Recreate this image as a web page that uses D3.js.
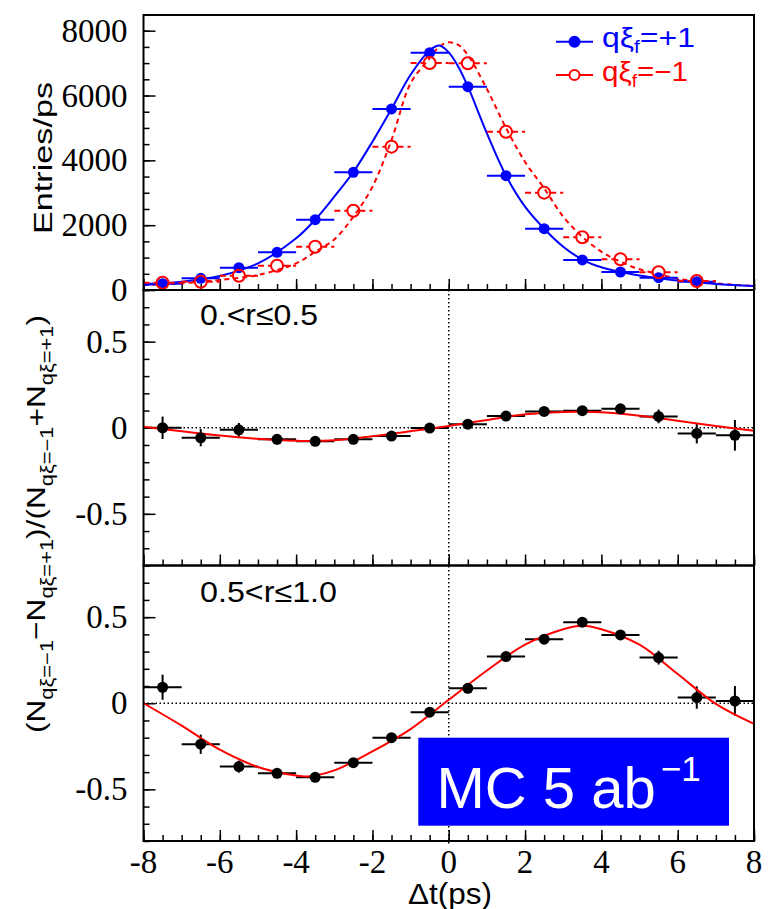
<!DOCTYPE html>
<html>
<head>
<meta charset="utf-8">
<script src="https://cdn.jsdelivr.net/npm/d3@7"></script>
<style>
  body { margin: 0; background: #fff; }
</style>
</head>
<body>
<svg id="chart" width="777" height="909"></svg>
<script>
// bins of the upper distribution (1 ps wide)
var topBins = [-7.5, -6.5, -5.5, -4.5, -3.5, -2.5, -1.5, -0.5, 0.5, 1.5, 2.5, 3.5, 4.5, 5.5, 6.5];
var blueCounts = [194, 360, 688, 1163, 2169, 3631, 5585, 7322, 6273, 3527, 1891, 926, 555, 380, 256];
var redCounts  = [225, 256, 441, 750, 1336, 2447, 4422, 7004, 6995, 4884, 3003, 1626, 947, 546, 278];

// fitted curves of the upper panel
var topFitX  = [-8, -7, -6, -5, -4, -3.5, -3, -2.5, -2, -1.5, -1, -0.5, -0.25, 0, 0.25, 0.5, 1, 1.5, 2, 2.5, 3, 3.5, 4, 4.5, 5, 5.5, 6, 7, 8];
var blueFit  = [154, 256, 432, 823, 1594, 2169, 2880, 3640, 4576, 5590, 6640, 7390, 7540, 7330, 6890, 6280, 4835, 3530, 2570, 1890, 1336, 940, 700, 555, 450, 365, 290, 185, 123];
var redFit   = [154, 206, 309, 463, 823, 1180, 1560, 2262, 3187, 4628, 6377, 7150, 7500, 7640, 7560, 7250, 6200, 5000, 3950, 3138, 2262, 1645, 1182, 873, 638, 494, 349, 206, 123];

// asymmetry panels
var ratioBins = [-7.5, -6.5, -5.5, -4.5, -3.5, -2.5, -1.5, -0.5, 0.5, 1.5, 2.5, 3.5, 4.5, 5.5, 6.5, 7.5];
var midAsym = [0.0, -0.058, -0.012, -0.067, -0.079, -0.067, -0.048, -0.002, 0.021, 0.068, 0.095, 0.099, 0.11, 0.066, -0.033, -0.044];
var midErr  = [0.065, 0.05, 0.04, 0.03, 0.025, 0.02, 0.02, 0.02, 0.02, 0.02, 0.02, 0.02, 0.025, 0.04, 0.058, 0.089];
var lowAsym = [0.093, -0.238, -0.368, -0.407, -0.43, -0.345, -0.2, -0.052, 0.087, 0.271, 0.372, 0.471, 0.397, 0.265, 0.033, 0.013];
var lowErr  = [0.073, 0.056, 0.035, 0.025, 0.02, 0.02, 0.02, 0.02, 0.02, 0.02, 0.02, 0.02, 0.025, 0.04, 0.065, 0.087];

var ratioFitX = [-8, -7, -6, -5, -4, -3.7, -3, -2, -1, 0, 1, 2, 3, 3.5, 4, 5, 6, 7, 8];
var midFit = [0.006, -0.02, -0.045, -0.064, -0.076, -0.077, -0.073, -0.05, -0.02, 0.01, 0.045, 0.078, 0.092, 0.093, 0.09, 0.07, 0.04, 0.01, -0.017];
var lowFit = [0.0, -0.13, -0.27, -0.37, -0.42, -0.425, -0.39, -0.28, -0.15, 0.02, 0.19, 0.34, 0.43, 0.45, 0.43, 0.34, 0.17, -0.004, -0.12];

var xMajor = [-8, -6, -4, -2, 0, 2, 4, 6, 8];
var topMajor = [0, 2000, 4000, 6000, 8000];
var ratioMajor = [-0.5, 0, 0.5];

var SANS = 'Liberation Sans';
var SERIF = 'Liberation Serif';

var svg = d3.select('#chart');
var x = d3.scaleLinear().domain([-8, 8]).range([143.5, 754]);

var panels = [
  {top: 15, bottom: 290, dom: [0, 8484], major: topMajor, minor: d3.range(0, 8485, 500)},
  {top: 290, bottom: 565.5, dom: [-0.8, 0.8], major: ratioMajor, minor: d3.range(-8, 9).map(function (d) { return d / 10; })},
  {top: 565.5, bottom: 841, dom: [-0.8, 0.8], major: ratioMajor, minor: d3.range(-8, 9).map(function (d) { return d / 10; })}
];
panels.forEach(function (p) {
  p.y = d3.scaleLinear().domain(p.dom).range([p.bottom, p.top]);
});

var xMinor = d3.range(-16, 17).map(function (d) { return d / 2; });

function ticksOnly(g) {
  g.select('.domain').remove();
  g.selectAll('.tick text').remove();
  g.selectAll('.tick line').attr('stroke', '#000').attr('stroke-width', 1.5);
}

// axes (tick marks from d3, labels drawn as plain text)
panels.forEach(function (p, i) {
  svg.append('g').attr('transform', 'translate(0,' + p.bottom + ')')
      .call(d3.axisBottom(x).tickValues(xMinor).tickSize(-6)).call(ticksOnly);
  svg.append('g').attr('transform', 'translate(0,' + p.bottom + ')')
      .call(d3.axisBottom(x).tickValues(xMajor).tickSize(-11)).call(ticksOnly);
  svg.append('g').attr('transform', 'translate(' + x(-8) + ',0)')
      .call(d3.axisLeft(p.y).tickValues(p.minor).tickSize(-6)).call(ticksOnly);
  svg.append('g').attr('transform', 'translate(' + x(-8) + ',0)')
      .call(d3.axisLeft(p.y).tickValues(p.major).tickSize(-12)).call(ticksOnly);

  var yl = svg.append('g');
  p.major.forEach(function (v) {
    yl.append('text').attr('x', x(-8) - 16).attr('y', p.y(v)).attr('dy', 11)
        .attr('text-anchor', 'end').attr('font-family', SERIF).attr('font-size', 33).attr('fill', '#000')
        .text(String(v));
  });
});
var xl = svg.append('g');
xMajor.forEach(function (v) {
  xl.append('text').attr('x', x(v)).attr('y', panels[2].bottom + 32)
      .attr('text-anchor', 'middle').attr('font-family', SERIF).attr('font-size', 33).attr('fill', '#000')
      .text(String(v));
});

// dotted zero lines in the asymmetry panels
svg.append('line').attr('x1', x(0)).attr('x2', x(0)).attr('y1', panels[1].top).attr('y2', panels[2].bottom + 3)
    .attr('stroke', '#000').attr('stroke-width', 1.5).attr('stroke-dasharray', '1.5 2.5');
[panels[1], panels[2]].forEach(function (p) {
  svg.append('line').attr('x1', x(-8)).attr('x2', x(8)).attr('y1', p.y(0)).attr('y2', p.y(0))
      .attr('stroke', '#000').attr('stroke-width', 1.5).attr('stroke-dasharray', '1.5 2.5');
});

function curve(p, xs, ys) {
  return d3.line()
      .x(function (d) { return x(d); })
      .y(function (d, i) { return p.y(ys[i]); })
      .curve(d3.curveCatmullRom.alpha(0.5))(xs);
}

// ---- top panel
var P0 = panels[0];
svg.append('path').attr('d', curve(P0, topFitX, redFit))
    .attr('fill', 'none').attr('stroke', '#ff0000').attr('stroke-width', 2).attr('stroke-dasharray', '5 4');
svg.append('path').attr('d', curve(P0, topFitX, blueFit))
    .attr('fill', 'none').attr('stroke', '#0000ff').attr('stroke-width', 2);

var bg = svg.append('g');
topBins.forEach(function (b, i) {
  bg.append('line').attr('x1', x(b - 0.5)).attr('x2', x(b + 0.5))
      .attr('y1', P0.y(blueCounts[i])).attr('y2', P0.y(blueCounts[i]))
      .attr('stroke', '#0000ff').attr('stroke-width', 2);
  bg.append('circle').attr('cx', x(b)).attr('cy', P0.y(blueCounts[i])).attr('r', 5.5).attr('fill', '#0000ff');
});
var rg = svg.append('g');
topBins.forEach(function (b, i) {
  var yy = P0.y(redCounts[i]);
  rg.append('line').attr('x1', x(b - 0.5)).attr('x2', x(b) - 6)
      .attr('y1', yy).attr('y2', yy).attr('stroke', '#ff0000').attr('stroke-width', 2).attr('stroke-dasharray', '6 4');
  rg.append('line').attr('x1', x(b) + 6).attr('x2', x(b + 0.5))
      .attr('y1', yy).attr('y2', yy).attr('stroke', '#ff0000').attr('stroke-width', 2).attr('stroke-dasharray', '6 4');
  rg.append('circle').attr('cx', x(b)).attr('cy', yy).attr('r', 6)
      .attr('fill', 'none').attr('stroke', '#ff0000').attr('stroke-width', 2);
});

// ---- asymmetry panels
function ratioPanel(p, vals, errs, fit) {
  var g = svg.append('g');
  ratioBins.forEach(function (b, i) {
    g.append('line').attr('x1', x(b - 0.5)).attr('x2', x(b + 0.5))
        .attr('y1', p.y(vals[i])).attr('y2', p.y(vals[i])).attr('stroke', '#000').attr('stroke-width', 2);
    g.append('line').attr('x1', x(b)).attr('x2', x(b))
        .attr('y1', p.y(vals[i] - errs[i])).attr('y2', p.y(vals[i] + errs[i])).attr('stroke', '#000').attr('stroke-width', 2);
  });
  svg.append('path').attr('d', curve(p, ratioFitX, fit))
      .attr('fill', 'none').attr('stroke', '#ff0000').attr('stroke-width', 2);
  var g2 = svg.append('g');
  ratioBins.forEach(function (b, i) {
    g2.append('circle').attr('cx', x(b)).attr('cy', p.y(vals[i])).attr('r', 5.5).attr('fill', '#000');
  });
}
ratioPanel(panels[1], midAsym, midErr, midFit);
ratioPanel(panels[2], lowAsym, lowErr, lowFit);

// frames
panels.forEach(function (p) {
  svg.append('rect').attr('x', x(-8)).attr('y', p.top).attr('width', x(8) - x(-8)).attr('height', p.bottom - p.top)
      .attr('fill', 'none').attr('stroke', '#000').attr('stroke-width', 2);
});

// ---- texts
svg.append('text').attr('transform', 'translate(51.5,158) rotate(-90)')
    .attr('text-anchor', 'middle').attr('font-family', SANS).attr('font-size', 26)
    .attr('textLength', 152).attr('lengthAdjust', 'spacingAndGlyphs')
    .text('Entries/ps');

var yt = svg.append('text').attr('transform', 'translate(45,524) rotate(-90)')
    .attr('text-anchor', 'middle').attr('font-family', SANS).attr('font-size', 26)
    .attr('textLength', 418).attr('lengthAdjust', 'spacingAndGlyphs');
[['(N', 0], ['qξ=−1', 1], ['−N', 0], ['qξ=+1', 1], [')/(N', 0], ['qξ=−1', 1], ['+N', 0], ['qξ=+1', 1], [')', 0]]
    .forEach(function (s, i, arr) {
      var prevSub = i > 0 && arr[i - 1][1];
      yt.append('tspan').attr('font-size', s[1] ? 18 : 26)
          .attr('dy', s[1] ? 8 : (prevSub ? -8 : 0)).text(s[0]);
    });

svg.append('text').attr('x', 408).attr('y', 904).attr('font-family', SANS).attr('font-size', 30)
    .attr('textLength', 84).attr('lengthAdjust', 'spacingAndGlyphs').text('Δt(ps)');

svg.append('text').attr('x', 200).attr('y', 324.5).attr('font-family', SANS).attr('font-size', 29)
    .attr('textLength', 118).attr('lengthAdjust', 'spacingAndGlyphs').text('0.<r≤0.5');
svg.append('text').attr('x', 200).attr('y', 602).attr('font-family', SANS).attr('font-size', 29)
    .attr('textLength', 137).attr('lengthAdjust', 'spacingAndGlyphs').text('0.5<r≤1.0');

// legend
var legend = [
  {label: '=+1', color: '#0000ff', filled: true, y: 41.7, len: 93},
  {label: '=−1', color: '#ff0000', filled: false, y: 75, len: 86}
];
legend.forEach(function (l) {
  svg.append('line').attr('x1', 556).attr('x2', 593).attr('y1', l.y).attr('y2', l.y)
      .attr('stroke', l.color).attr('stroke-width', 2);
  svg.append('circle').attr('cx', 574.5).attr('cy', l.y).attr('r', 5)
      .attr('fill', l.filled ? l.color : '#fff').attr('stroke', l.color).attr('stroke-width', 2);
  var t = svg.append('text').attr('x', 602).attr('y', l.y + 5.5).attr('font-family', SANS).attr('font-size', 28)
      .attr('fill', l.color).attr('textLength', l.len).attr('lengthAdjust', 'spacingAndGlyphs');
  t.append('tspan').text('qξ');
  t.append('tspan').attr('font-size', 18).attr('dy', 6).text('f');
  t.append('tspan').attr('dy', -6).text(l.label);
});

// MC box
svg.append('rect').attr('x', 418.3).attr('y', 737.7).attr('width', 310.7).attr('height', 88).attr('fill', '#0000ff');
var mc = svg.append('text').attr('x', 436.5).attr('y', 808.3).attr('font-family', SANS).attr('font-size', 58).attr('fill', '#fff');
mc.append('tspan').text('MC 5 ab');
mc.append('tspan').attr('font-size', 35).attr('dx', 5).attr('dy', -27).text('−1');
</script>
</body>
</html>
